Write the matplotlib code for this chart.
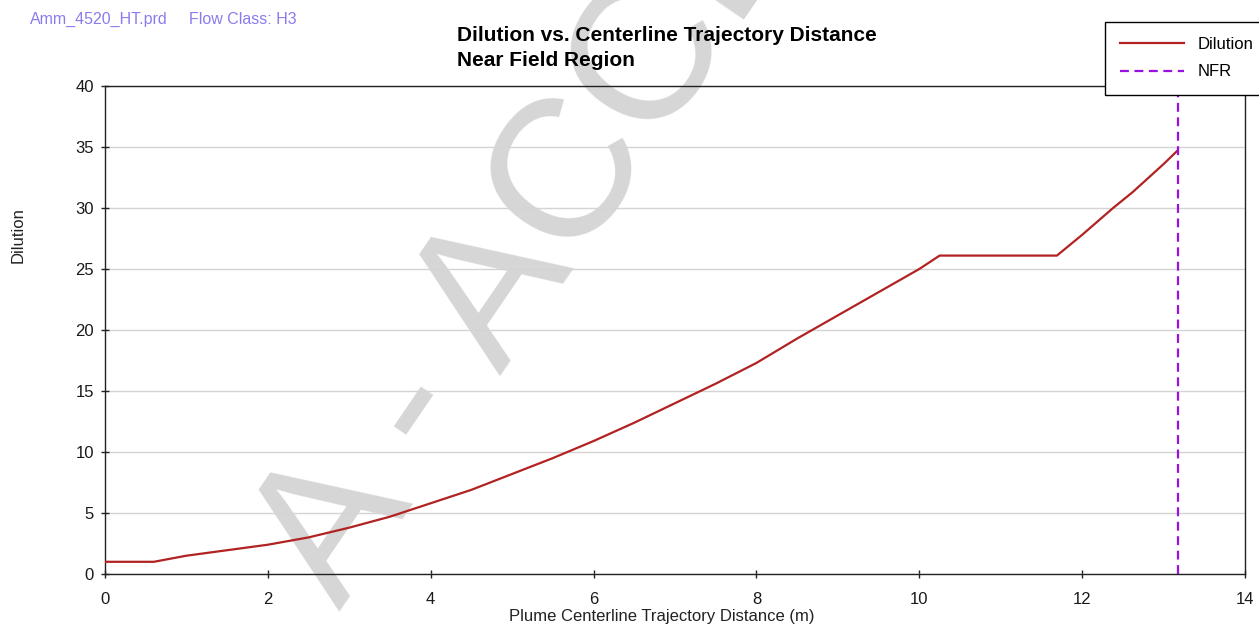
import matplotlib
matplotlib.use("Agg")
import matplotlib.pyplot as plt

plt.rcParams['font.family'] = ['Liberation Sans', 'DejaVu Sans']

# Centerline trajectory distance (m) and dilution along the plume
distance = [0.0, 0.6, 1.0, 1.5, 2.0, 2.5, 3.0, 3.5, 4.0, 4.5, 5.0, 5.5, 6.0, 6.5,
            7.0, 7.5, 8.0, 8.5, 9.0, 9.5, 10.0, 10.25, 11.69, 12.0, 12.38, 12.62,
            13.0, 13.17]
dilution = [1.0, 1.0, 1.5, 1.95, 2.4, 3.0, 3.8, 4.7, 5.8, 6.9, 8.2, 9.5, 10.9, 12.4,
            14.0, 15.6, 17.3, 19.3, 21.2, 23.1, 25.0, 26.1, 26.1, 27.8, 30.0, 31.3,
            33.6, 34.7]
nfr_distance = 13.18

x_ticks = [0, 2, 4, 6, 8, 10, 12, 14]
y_ticks = [0, 5, 10, 15, 20, 25, 30, 35, 40]

W, H = 1259, 626
fig = plt.figure(figsize=(W / 100, H / 100), dpi=100)
fig.patch.set_facecolor('white')

ax = fig.add_axes([105 / W, 1 - 574 / H, (1245 - 105) / W, (574 - 86) / H])
ax.set_facecolor('none')

# background stamp
fig.text(340 / W, 1 - 612 / H, "A - ACCEPTED", fontsize=142, color='#D6D6D6',
         rotation=55.7, rotation_mode='anchor', ha='left', va='baseline',
         zorder=-1)

ax.plot(distance, dilution, color='#B22222', lw=1.6, label='Dilution', zorder=3)
ax.axvline(nfr_distance, color='#9B10DD', lw=1.6, ls=(0, (4, 2.5)), label='NFR',
           zorder=3)

ax.set_xlim(0, 14)
ax.set_ylim(0, 40)
ax.set_xticks(x_ticks)
ax.set_yticks(y_ticks)
ax.yaxis.grid(True, color='#D4D4D4', lw=1.0)
ax.set_axisbelow(True)
for s in ax.spines.values():
    s.set_color('#222222')
    s.set_linewidth(1.0)
ax.tick_params(axis='both', direction='inout', length=6, width=1, colors='#222222',
               labelsize=12, labelcolor='#1a1a1a')
ax.tick_params(axis='x', pad=10)
ax.tick_params(axis='y', pad=5)

fig.text(662 / W, 1 - 616 / H, "Plume Centerline Trajectory Distance (m)",
         fontsize=12, color='#222222', ha='center', va='center')
fig.text(18 / W, 1 - 235 / H, "Dilution", fontsize=12, color='#222222',
         rotation=90, ha='center', va='center')

fig.text(457 / W, 1 - 41 / H, "Dilution vs. Centerline Trajectory Distance",
         fontsize=15, fontweight='bold', color='black', ha='left', va='baseline')
fig.text(457 / W, 1 - 66 / H, "Near Field Region",
         fontsize=15, fontweight='bold', color='black', ha='left', va='baseline')

fig.text(30 / W, 1 - 24 / H, "Amm_4520_HT.prd", fontsize=11.5, color='#8A7CEE',
         ha='left', va='baseline')
fig.text(189 / W, 1 - 24 / H, "Flow Class: H3", fontsize=11.5, color='#8A7CEE',
         ha='left', va='baseline')

leg = ax.legend(loc='upper left', bbox_to_anchor=(1105 / W, 1 - 22 / H),
                bbox_transform=fig.transFigure, borderaxespad=0, fontsize=12,
                frameon=True, fancybox=False, edgecolor='black', framealpha=1,
                handlelength=3.85, handletextpad=0.8, borderpad=0.9,
                labelspacing=0.75)
leg.get_frame().set_linewidth(1.0)

fig.savefig("out.png", dpi=100, facecolor='white')
